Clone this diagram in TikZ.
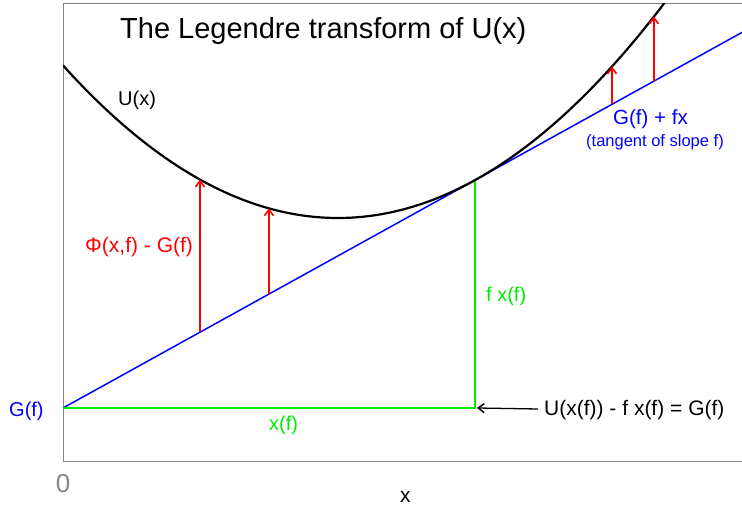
\documentclass[tikz,border=0pt]{standalone}
\usepackage{fontspec}
\setmainfont{Liberation Sans}
\usetikzlibrary{arrows.meta}
\definecolor{boxgray}{RGB}{135,135,135}
\definecolor{bl}{RGB}{0,0,255}
\definecolor{rd}{RGB}{255,0,0}
\definecolor{gr}{RGB}{0,235,0}
\tikzset{
  lbl/.style={inner sep=0pt, anchor=base west},
  fs/.style={font=\fontsize{#1}{#1}\selectfont},
  redarrow/.style={draw=rd, line width=1.6pt, -{Straight Barb[length=6pt,width=9pt,line width=1.6pt]}},
  blackarrow/.style={draw=black, line width=1.3pt, -{Straight Barb[length=6pt,width=9pt,line width=1.5pt]}},
}
\begin{document}
\begin{tikzpicture}[x=1pt,y=-1pt]
\useasboundingbox (0,0) rectangle (742,510);
% frame
\draw[boxgray, line width=1pt] (742,4) -- (63,4) -- (63,462) -- (742,462);
% named points
\coordinate (O) at (63,408);
\coordinate (T) at (475,180);
\coordinate (BE) at (742,32.4);
\coordinate (C) at (475,408);
% blue tangent
\draw[bl, line width=1.5pt] (O) -- (BE);
% green lines
\draw[gr, line width=1.6pt] (O) -- (C) -- (T);
% curve
\begin{scope}
\clip (63,4) rectangle (742,462);
\draw[black, line width=2.2pt, samples=120, domain=-2.75:3.27, variable=\t]
  plot ({338+100*\t}, {218-20.18*\t*\t});
\end{scope}
% red arrows
\foreach \xx/\nm in {200/a,269/b,612/c,654/d}{
  \coordinate (l\nm) at (\xx,{408-0.5534*(\xx-63)});
  \coordinate (u\nm) at (\xx,{218-20.18*((\xx-338)/100)*((\xx-338)/100)});
  \draw[redarrow] (l\nm) -- (u\nm);
}
% labels
\node[lbl, fs=29] (title) at (120,39) {The Legendre transform of U(x)};
\node[lbl, fs=20] (ux) at (118,106) {U(x)};
\node[lbl, fs=20.5, text=bl] (gfx) at (613,125) {G(f) + fx};
\node[lbl, fs=16.5, text=bl] (tan) at (586,147) {(tangent of slope f)};
\node[lbl, fs=21, text=rd] (phi) at (85,253) {Φ(x,f) - G(f)};
\node[lbl, fs=20, text=gr] (fxf) at (486,302) {f x(f)};
\node[lbl, fs=20, text=gr] (xf) at (269,431) {x(f)};
\node[lbl, fs=21] (eq) at (544,416) {U(x(f)) - f x(f) = G(f)};
\node[lbl, fs=20, text=bl] (gf) at (9,417) {G(f)};
\node[lbl, fs=21] (xl) at (400,502) {x};
\node[inner sep=0pt, fs=26, text=boxgray] (zero) at (63,484) {0};
% black arrow
\coordinate (eqa) at (538,409);
\draw[blackarrow] (eqa) -- ([xshift=2pt]C);
\end{tikzpicture}
\end{document}
